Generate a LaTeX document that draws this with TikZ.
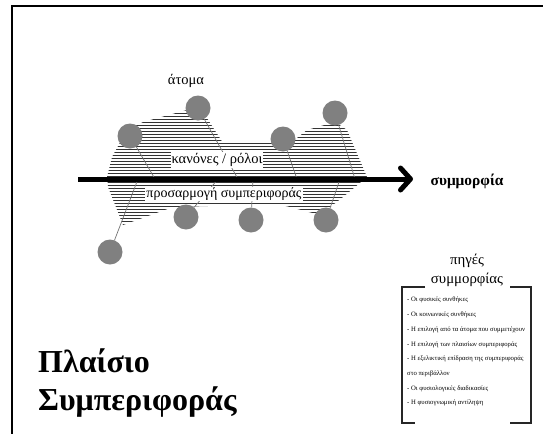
\documentclass[tikz,border=0pt]{standalone}
\usepackage{fontspec}
\setmainfont{Liberation Serif}
\usetikzlibrary{arrows.meta,positioning}

\begin{document}
\begin{tikzpicture}[
  x=1pt, y=-1pt,
  atom/.style={circle, fill=black!50, minimum size=25pt, inner sep=0pt},
  link/.style={draw=black!55, line width=0.7pt},
  hatch/.style={draw=black!80, line width=0.6pt},
  tag/.style={fill=white, inner sep=1pt, font=\fontsize{14.5}{16}\selectfont},
  flow/.style={line width=5pt, -{Straight Barb[length=10pt,width=22pt,round]}},
  heading/.style={anchor=base west, inner sep=0pt, font=\fontsize{32}{38}\selectfont\bfseries},
  font=\fontsize{14.5}{16}\selectfont
]
\useasboundingbox (0,0) rectangle (543,434);

% Frame of the slide
\draw[line width=2pt] (543,6) -- (12,6) -- (12,434);

% Hatched field
\begin{scope}
  \clip (107,177) -- (112,157) -- (127,130) -- (143,122) -- (187,110) -- (203,112)
     -- (223,143) -- (273,143) -- (297,138) -- (307,130) -- (335,122) -- (347,130)
     -- (367,177) -- (343,197) -- (320,215) -- (290,207) -- (277,204)
     -- (173,207) -- (123,225) -- (108,187) -- cycle;
  \foreach \y in {104,107,...,230}
    \draw[hatch] (100,\y) -- (375,\y);
\end{scope}

% Points on the arrow
\coordinate (start) at (78,179);
\coordinate (tip) at (413,179);
\coordinate (f1) at (155,179);
\coordinate (f2) at (238,179);
\coordinate (f3) at (297,179);
\coordinate (f4) at (355,179);
\coordinate (f5) at (218,179);
\coordinate (f6) at (253,179);
\coordinate (f7) at (340,179);
\coordinate (f8) at (138,179);

% Individuals
\node[atom] (a1) at (130,136) {};
\node[atom] (a2) at (198,108) {};
\node[atom] (a3) at (283,139) {};
\node[atom] (a4) at (335,113) {};
\node[atom] (a5) at (186,217) {};
\node[atom] (a6) at (251,220) {};
\node[atom] (a7) at (326,220) {};
\node[atom] (a8) at (110,252) {};
\node[anchor=base] (atoms) at (186,84) {άτομα};

% Links to the arrow
\foreach \i in {1,...,8}
  \draw[link] (a\i) -- (f\i);

% Labels on the field
\node[tag] (rules) at (217,160) {κανόνες / ρόλοι};
\node[tag, font=\fontsize{14}{16}\selectfont] (adapt) at (224,194) {προσαρμογή συμπεριφοράς};

% Main arrow
\node[font=\fontsize{15.4}{17}\selectfont] (conf) at (467,181) {\bfseries συμμορφία};
\draw[flow] (start) -- (tip);

% Sources box
\node[align=center, font=\fontsize{14.8}{19}\selectfont] (src) at (467,270) {πηγές\\συμμορφίας};
\node[align=left, anchor=north west, inner sep=0pt,
      font=\fontsize{6.7}{14.7}\selectfont] (list) at (407,297) {%
  - Οι φυσικές συνθήκες\\
  - Οι κοινωνικές συνθήκες\\
  - Η επιλογή από τα άτομα που συμμετέχουν\\
  - Η επιλογή των πλαισίων συμπεριφοράς\\
  - Η εξελικτική επίδραση της συμπεριφοράς\\
  στο περιβάλλον\\
  - Οι φυσιολογικές διαδικασίες\\
  - Η φυσιογνωμική αντίληψη};
\draw[line width=1.5pt, black!85] (425,287) -- (402,287) -- (402,423) -- (415,423);
\draw[line width=1.5pt, black!85] (510,287) -- (531,287) -- (531,423) -- (510,423);

% Title
\node[heading] (title) at (38,372) {Πλαίσιο};
\node[heading] (title2) at ([yshift=-38pt]title.base west) {Συμπεριφοράς};
\end{tikzpicture}
\end{document}
